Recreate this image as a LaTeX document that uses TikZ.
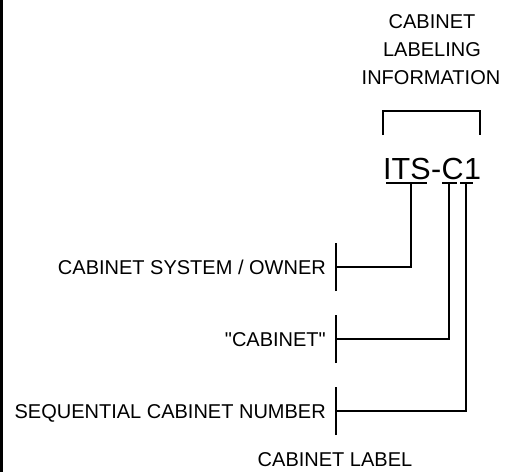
\documentclass[tikz,border=0pt]{standalone}
\usepackage{fontspec}
\setmainfont{Liberation Sans}
\newfontfamily\plainq{Liberation Sans}
\begin{document}
\begin{tikzpicture}[x=1pt,y=-1pt,
  lbl/.style={inner sep=0pt,font=\fontsize{20}{24}\selectfont},
  big/.style={inner sep=0pt,font=\fontsize{30.5}{36}\selectfont},
  wire/.style={line width=2.4pt,line cap=rect},
  ubar/.style={line width=2.4pt}]
\useasboundingbox (0,0) rectangle (507,472);
\fill[black] (0,0) rectangle (3,472);
% heading
\node[lbl,anchor=base] (h1) at (432,28) {CABINET};
\node[lbl,anchor=base] (h2) at (432,56) {LABELING};
\node[lbl,anchor=base] (h3) at (431,84) {INFORMATION};
% bracket
\coordinate (bl) at (383,135);
\coordinate (br) at (480,135);
\draw[line width=2.6pt] (bl) -- ++(0,-24) -| (br);
% label text
\node[big,anchor=base west] (its) at (383,179) {ITS};
\node[big,anchor=base west] (dash) at (its.base east) {-};
\node[big,anchor=base west] (cc) at (dash.base east) {C};
\node[big,anchor=base west] (one) at (cc.base east) {1};
\coordinate (u1) at (411,183);
\coordinate (u2) at (449,183);
\coordinate (u3) at (466,183);
\draw[ubar] (386,183) -- (u1) -- (427,183);
\draw[ubar] (442,183) -- (u2) -- (457,183);
\draw[ubar] (460,183) -- (u3) -- (473,183);
% ticks
\coordinate (t1) at (336,267);
\coordinate (t2) at (336,339);
\coordinate (t3) at (336,411);
\foreach \t in {t1,t2,t3}
  \draw[line width=2.4pt] ([yshift=-24pt]\t) -- ([yshift=24pt]\t);
% connectors
\draw[wire] (u1) |- (t1);
\draw[wire] (u2) |- (t2);
\draw[wire] (u3) |- (t3);
% side labels
\node[lbl,anchor=base east] (l1) at (326,274) {CABINET SYSTEM / OWNER};
\node[lbl,anchor=base east] (l2) at (326,346) {{\plainq"}CABINET{\plainq"}};
\node[lbl,anchor=base east] (l3) at (326,418) {SEQUENTIAL CABINET NUMBER};
\node[lbl,anchor=base] (foot) at (335,466) {CABINET LABEL};
\end{tikzpicture}
\end{document}
